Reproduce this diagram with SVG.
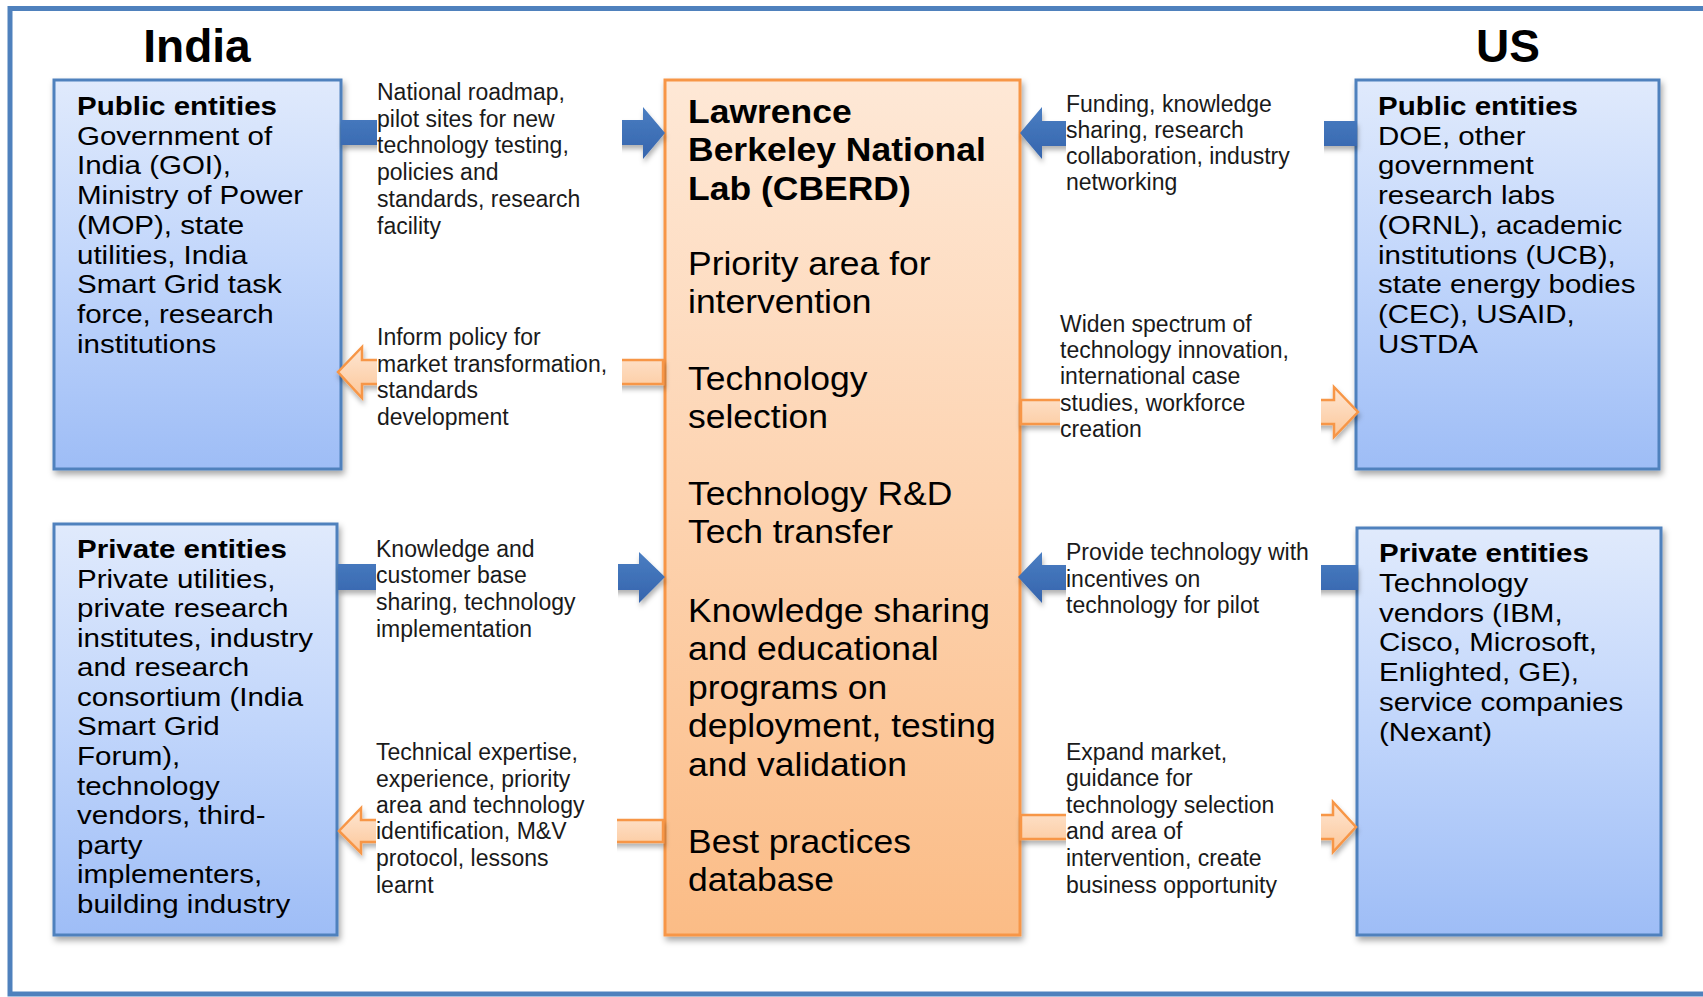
<svg xmlns="http://www.w3.org/2000/svg" width="1703" height="997" viewBox="0 0 1703 997">
<defs>
<linearGradient id="gBlue" x1="0" y1="0" x2="0" y2="1">
<stop offset="0" stop-color="#e0eafc"/>
<stop offset="0.5" stop-color="#c0d5fb"/>
<stop offset="1" stop-color="#9ebdf6"/>
</linearGradient>
<linearGradient id="gOrange" x1="0" y1="0" x2="0" y2="1">
<stop offset="0" stop-color="#fee8d6"/>
<stop offset="0.5" stop-color="#fdd3b0"/>
<stop offset="1" stop-color="#fbbc86"/>
</linearGradient>
<linearGradient id="gArrB" x1="0" y1="0" x2="0" y2="1">
<stop offset="0" stop-color="#4a7ec2"/>
<stop offset="1" stop-color="#3564ad"/>
</linearGradient>
<linearGradient id="gArrO" x1="0" y1="0" x2="0" y2="1">
<stop offset="0" stop-color="#fee6d3"/>
<stop offset="1" stop-color="#fcc799"/>
</linearGradient>
<filter id="sh" x="-10%" y="-10%" width="130%" height="130%">
<feDropShadow dx="2" dy="4" stdDeviation="3" flood-color="#000" flood-opacity="0.35"/>
</filter>
<filter id="shA" x="-20%" y="-30%" width="140%" height="170%">
<feDropShadow dx="1" dy="4" stdDeviation="2.5" flood-color="#000" flood-opacity="0.3"/>
</filter>
</defs>
<style>
text{font-family:"Liberation Sans",Arial,sans-serif;fill:#000}
.title{font-size:46px;font-weight:bold}
.bt{font-size:26px}
.lt{font-size:33.5px}
.b{font-weight:bold}
.lbl{font-size:23px;fill:#1a1a1a}
.bluebox{fill:url(#gBlue);stroke:#4f81bd;stroke-width:3}
.labbox{fill:url(#gOrange);stroke:#f79646;stroke-width:3}
.arrB{fill:url(#gArrB);stroke:none}
.arrO{fill:url(#gArrO);stroke:#f79646;stroke-width:2.5;stroke-linejoin:miter}
.mask{fill:#fff;stroke:none}
</style>
<rect x="0" y="0" width="1703" height="997" fill="#fff"/>
<rect x="10" y="8.5" width="1800" height="985.5" fill="none" stroke="#4f81bd" stroke-width="5"/>

<g id="title-india"><text class="title" x="197" y="62" text-anchor="middle">India</text></g>
<g id="title-us"><text class="title" x="1508" y="62" text-anchor="middle">US</text></g>

<g id="india-public">
<rect class="bluebox" x="54" y="80" width="287" height="389" filter="url(#sh)"/>
<g transform="matrix(1.135,0,0,1,-10.4,0)">
<text class="bt" x="77"><tspan class="b" x="77" y="115">Public entities</tspan><tspan x="77" y="144.8">Government of</tspan><tspan x="77" y="174.5">India (GOI),</tspan><tspan x="77" y="204.3">Ministry of Power</tspan><tspan x="77" y="234">(MOP), state</tspan><tspan x="77" y="263.8">utilities, India</tspan><tspan x="77" y="293.5">Smart Grid task</tspan><tspan x="77" y="323.3">force, research</tspan><tspan x="77" y="353">institutions</tspan></text>
</g>
</g>

<g id="india-private">
<rect class="bluebox" x="54" y="524" width="283" height="411" filter="url(#sh)"/>
<g transform="matrix(1.135,0,0,1,-10.4,0)">
<text class="bt" x="77"><tspan class="b" x="77" y="558">Private entities</tspan><tspan x="77" y="587.6">Private utilities,</tspan><tspan x="77" y="617.2">private research</tspan><tspan x="77" y="646.7">institutes, industry</tspan><tspan x="77" y="676.3">and research</tspan><tspan x="77" y="705.9">consortium (India</tspan><tspan x="77" y="735.5">Smart Grid</tspan><tspan x="77" y="765.1">Forum),</tspan><tspan x="77" y="794.7">technology</tspan><tspan x="77" y="824.2">vendors, third-</tspan><tspan x="77" y="853.8">party</tspan><tspan x="77" y="883.4">implementers,</tspan><tspan x="77" y="913">building industry</tspan></text>
</g>
</g>

<g id="lbnl">
<rect class="labbox" x="665" y="80" width="355" height="855" filter="url(#sh)"/>
<g transform="matrix(1.06,0,0,1,-41.28,0)">
<text class="lt b" x="688"><tspan x="688" y="123">Lawrence</tspan><tspan x="688" y="161.5">Berkeley National</tspan><tspan x="688" y="200">Lab (CBERD)</tspan></text>
<text class="lt" x="688"><tspan x="688" y="275">Priority area for</tspan><tspan x="688" y="313">intervention</tspan><tspan x="688" y="390">Technology</tspan><tspan x="688" y="428">selection</tspan><tspan x="688" y="505">Technology R&amp;D</tspan><tspan x="688" y="543">Tech transfer</tspan><tspan x="688" y="622">Knowledge sharing</tspan><tspan x="688" y="660.5">and educational</tspan><tspan x="688" y="699">programs on</tspan><tspan x="688" y="737.5">deployment, testing</tspan><tspan x="688" y="776">and validation</tspan><tspan x="688" y="853">Best practices</tspan><tspan x="688" y="891">database</tspan></text>
</g>
</g>

<g id="us-public">
<rect class="bluebox" x="1356" y="80" width="303" height="389" filter="url(#sh)"/>
<g transform="matrix(1.135,0,0,1,-186.03,0)">
<text class="bt" x="1378"><tspan class="b" x="1378" y="115">Public entities</tspan><tspan x="1378" y="144.8">DOE, other</tspan><tspan x="1378" y="174.5">government</tspan><tspan x="1378" y="204.3">research labs</tspan><tspan x="1378" y="234">(ORNL), academic</tspan><tspan x="1378" y="263.8">institutions (UCB),</tspan><tspan x="1378" y="293.5">state energy bodies</tspan><tspan x="1378" y="323.3">(CEC), USAID,</tspan><tspan x="1378" y="353">USTDA</tspan></text>
</g>
</g>

<g id="us-private">
<rect class="bluebox" x="1357" y="528" width="304" height="407" filter="url(#sh)"/>
<g transform="matrix(1.135,0,0,1,-186.17,0)">
<text class="bt" x="1379"><tspan class="b" x="1379" y="562">Private entities</tspan><tspan x="1379" y="591.8">Technology</tspan><tspan x="1379" y="621.7">vendors (IBM,</tspan><tspan x="1379" y="651.5">Cisco, Microsoft,</tspan><tspan x="1379" y="681.3">Enlighted, GE),</tspan><tspan x="1379" y="711.2">service companies</tspan><tspan x="1379" y="741">(Nexant)</tspan></text>
</g>
</g>

<g id="connectors">
<g filter="url(#shA)">
<path class="arrB" d="M341,120 H643 V107 L665,133 L643,159 V145 H341 Z"/>
<path class="arrB" d="M1357,121 H1042 V107 L1020,133 L1042,159 V146 H1357 Z"/>
<path class="arrB" d="M338,564 H639 V552 L665,577 L639,603 V590 H338 Z"/>
<path class="arrB" d="M1358,565 H1042 V552 L1018,577 L1042,603 V590 H1358 Z"/>
<path class="arrO" d="M663,360 H362 V347 L338,372 L362,398 V384 H663 Z"/>
<path class="arrO" d="M1021,400 H1334 V387 L1358,412 L1334,437 V424 H1021 Z"/>
<path class="arrO" d="M663,820 H361 V808 L339,831 L361,853 V842 H663 Z"/>
<path class="arrO" d="M1021,815 H1333 V802 L1356,827 L1333,852 V839 H1021 Z"/>
</g>
<rect class="mask" x="377" y="82" width="245" height="160"/>
<rect class="mask" x="377" y="320" width="245" height="120"/>
<rect class="mask" x="1066" y="86" width="258" height="115"/>
<rect class="mask" x="1060" y="305" width="261" height="145"/>
<rect class="mask" x="376" y="530" width="242" height="118"/>
<rect class="mask" x="376" y="735" width="241" height="170"/>
<rect class="mask" x="1066" y="535" width="255" height="88"/>
<rect class="mask" x="1066" y="735" width="255" height="170"/>

<text class="lbl"><tspan x="377" y="100">National roadmap,</tspan><tspan x="377" y="127">pilot sites for new</tspan><tspan x="377" y="153">technology testing,</tspan><tspan x="377" y="180">policies and</tspan><tspan x="377" y="207">standards, research</tspan><tspan x="377" y="234">facility</tspan></text>
<text class="lbl"><tspan x="377" y="345">Inform policy for</tspan><tspan x="377" y="372">market transformation,</tspan><tspan x="377" y="398">standards</tspan><tspan x="377" y="425">development</tspan></text>
<text class="lbl"><tspan x="1066" y="112">Funding, knowledge</tspan><tspan x="1066" y="138">sharing, research</tspan><tspan x="1066" y="164">collaboration, industry</tspan><tspan x="1066" y="190">networking</tspan></text>
<text class="lbl"><tspan x="1060" y="332">Widen spectrum of</tspan><tspan x="1060" y="358">technology innovation,</tspan><tspan x="1060" y="384">international case</tspan><tspan x="1060" y="411">studies, workforce</tspan><tspan x="1060" y="437">creation</tspan></text>
<text class="lbl"><tspan x="376" y="557">Knowledge and</tspan><tspan x="376" y="583">customer base</tspan><tspan x="376" y="610">sharing, technology</tspan><tspan x="376" y="637">implementation</tspan></text>
<text class="lbl"><tspan x="376" y="760">Technical expertise,</tspan><tspan x="376" y="787">experience, priority</tspan><tspan x="376" y="813">area and technology</tspan><tspan x="376" y="839">identification, M&amp;V</tspan><tspan x="376" y="866">protocol, lessons</tspan><tspan x="376" y="893">learnt</tspan></text>
<text class="lbl"><tspan x="1066" y="560">Provide technology with</tspan><tspan x="1066" y="587">incentives on</tspan><tspan x="1066" y="613">technology for pilot</tspan></text>
<text class="lbl"><tspan x="1066" y="760">Expand market,</tspan><tspan x="1066" y="786">guidance for</tspan><tspan x="1066" y="813">technology selection</tspan><tspan x="1066" y="839">and area of</tspan><tspan x="1066" y="866">intervention, create</tspan><tspan x="1066" y="893">business opportunity</tspan></text>
</g>
</svg>
